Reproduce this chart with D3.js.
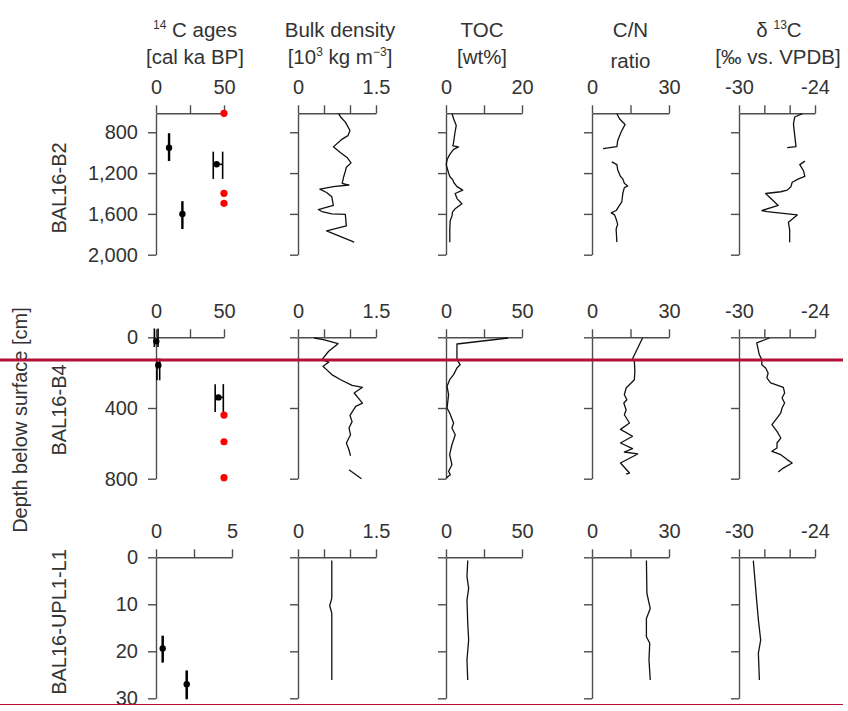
<!DOCTYPE html>
<html lang="en">
<head>
<meta charset="UTF-8">
<script src="https://cdn.jsdelivr.net/npm/d3@7"></script>
<style>
    body{margin:0;background:#fff;}
    svg text{font-family:"Liberation Sans",Arial,sans-serif;fill:#333;}
</style>
<title>BAL16 cores</title>
</head>
<body>
<svg id="chart"></svg>
<script>
// ---- data ----
var rowNames = ["BAL16-B2", "BAL16-B4", "BAL16-UPL1-L1"];
var depthDomains = [[614, 2000], [0, 800], [0, 30]];
var depthTicks = [[800, 1200, 1600, 2000], [0, 400, 800], [0, 10, 20, 30]];
var ageDomains = [[0, 50], [0, 50], [0, 5]];
var bulkDomain = [0, 1.5];
var tocDomains = [[0, 20], [0, 50], [0, 50]];
var cnDomain = [0, 30];
var d13Domain = [-30, -24];

// 14C samples: [depth top, depth bottom, depth, age min, age, age max]
var b2Ages = [[810, 1081, 951, 9.3, 9.6, 9.9], [990, 1257, 1114, 42.1, 44.6, 49.0], [1476, 1748, 1600, 19.1, 19.4, 19.7]];
var b4Ages = [[-50, 55, 23, -1.2, 0.2, 1.5], [120, 243, 158, 0.7, 1.7, 2.7], [265, 422, 340, 43.5, 45.9, 49.5]];
var uplAges = [[16.7, 22.4, 19.4, 0.41, 0.44, 0.47], [24.1, 30.2, 27.0, 1.99, 2.02, 2.05]];
// samples beyond the radiocarbon limit, plotted at 50 ka
var b2Infinite = [614, 1398, 1496];
var b4Infinite = [440, 591, 794];

// profiles: [depth, value], null = gap
var b2Bulk = [[618,0.78],[650,0.82],[700,0.91],[783,1.00],[833,0.96],[867,0.85],[943,0.68],[1000,0.82],[1050,0.95],[1100,1.02],[1143,0.93],[1183,0.91],[1233,0.88],[1300,0.85],[1317,0.98],[1333,0.68],[1357,0.42],[1390,0.55],[1433,0.65],[1517,0.68],[1557,0.39],[1577,0.46],[1600,0.65],[1605,0.91],[1717,0.93],[1767,0.55],[1877,1.08]];
var b2Toc = [[618,1.6],[667,2.0],[733,2.7],[817,2.3],[900,2.0],[933,1.8],[943,3.3],[967,2.0],[1017,1.0],[1067,0.3],[1117,0.05],[1150,0.3],[1200,0.7],[1233,1.0],[1267,1.8],[1290,2.0],[1333,2.9],[1367,4.4],[1400,2.4],[1450,2.9],[1500,4.2],[1550,2.4],[1583,1.7],[1617,1.6],[1667,1.1],[1750,1.0],[1877,1.0]];
var b2CN = [[618,9.7],[667,10.7],[723,12.9],[800,11.3],[883,10.0],[940,9.7],[960,4.3],null,[1090,7.7],[1117,9.7],[1167,10.0],[1233,11.1],[1257,12.0],[1300,12.6],[1327,13.9],[1343,12.6],[1400,12.0],[1483,11.6],[1517,10.7],[1567,9.4],[1590,7.5],[1610,8.8],[1650,9.4],[1700,10.0],[1750,9.4],[1877,9.7]];
var b2D13 = [[618,-25.0],[650,-25.6],[717,-25.7],[833,-25.6],[940,-25.5],[950,-26.2],null,[1083,-24.8],[1117,-25.2],[1180,-24.9],[1233,-24.8],[1257,-25.3],[1290,-25.8],[1333,-25.9],[1367,-26.2],[1383,-26.7],[1400,-27.9],[1517,-26.9],[1567,-28.2],[1577,-27.8],[1610,-25.4],[1683,-26.1],[1757,-26.0],[1877,-26.0]];

var b4Bulk = [[4,0.31],[13,0.49],[36,0.77],[79,0.59],[126,0.46],[141,0.59],[164,0.48],[183,0.55],[211,0.65],[240,0.82],[272,1.04],[283,1.24],[315,1.08],[372,1.24],[391,1.11],[442,1.00],[477,1.04],[513,0.98],[551,1.01],[598,0.93],[636,0.98],[670,1.01],null,[749,0.98],[800,1.22]];
var b4Toc = [[4,40.9],[38,7.2],[126,7.2],[155,9.3],[174,7.2],[211,5.0],[240,2.4],[277,0.7],[324,1.7],[400,0.7],[428,2.4],[485,5.0],[513,3.9],[551,6.1],[608,3.9],[664,2.4],[721,3.9],[758,1.7],[777,2.8],[796,0.2]];
var b4CN = [[4,19.7],[121,15.8],[136,16.5],[192,16.7],[240,16.5],[287,13.3],[325,12.6],[353,13.6],[372,12.4],[411,13.3],[438,12.6],[485,14.6],[521,11.1],[560,15.8],[598,11.1],[630,15.8],[649,12.6],[660,17.8],[711,11.1],[768,14.6],[774,13.3]];
var b4D13 = [[4,-27.6],[32,-28.6],[98,-28.4],[126,-28.2],[155,-28.2],[174,-27.9],[202,-27.7],[230,-27.8],[258,-27.5],[283,-26.5],[315,-26.4],[343,-26.6],[372,-26.4],[400,-26.6],[428,-26.7],[457,-27.0],[494,-27.4],[532,-27.0],[570,-26.7],[598,-27.0],[626,-27.0],[645,-27.4],[664,-26.7],[692,-26.2],[711,-25.8],[740,-26.5],[762,-26.9]];

var uplBulk = [[0.7,0.65],[8.7,0.65],[10.3,0.61],[11.9,0.65],[26.1,0.65]];
var uplToc = [[0.7,14.3],[4.1,13.8],[6.6,14.9],[9.1,13.8],[14.0,14.3],[17.6,14.9],[21.8,13.8],[26.1,14.3]];
var uplCN = [[0.7,21.2],[7.7,21.4],[10.9,22.7],[13.0,21.2],[16.9,21.2],[18.3,22.5],[21.8,22.2],[26.1,22.7]];
var uplD13 = [[0.7,-28.87],[4.8,-28.74],[9.1,-28.61],[13.3,-28.47],[17.6,-28.29],[20.4,-28.47],[26.1,-28.39]];

var ageSamples = [b2Ages, b4Ages, uplAges];
var infiniteSamples = [b2Infinite, b4Infinite, []];
var profiles = [
    [b2Bulk, b2Toc, b2CN, b2D13],
    [b4Bulk, b4Toc, b4CN, b4D13],
    [uplBulk, uplToc, uplCN, uplD13]
];

// ---- layout ----
var width = 848, height = 711;
var svg = d3.select("#chart").attr("width", width).attr("height", height);

var rowTop = [113.3, 337.3, 557.3];
var rowBottom = [254.7, 478.7, 698.3];
var colX = [156, 298, 446, 592, 739];
var colW = [68, 78, 76, 77, 76];
var axisColor = "#4d4d4d";

function endTicks(dom) { return [dom[0], (dom[0] + dom[1]) / 2, dom[1]]; }

function drawPanel(r, c, xDomain, xTicks) {
    var w = (r == 2 && c == 0) ? 76 : colW[c];
    var x = d3.scaleLinear().domain(xDomain).range([colX[c], colX[c] + w]);
    var y = d3.scaleLinear().domain(depthDomains[r]).range([rowTop[r], rowBottom[r]]);
    var g = svg.append("g");

    var xa = g.append("g")
        .attr("transform", "translate(0," + rowTop[r] + ")")
        .call(d3.axisTop(x).tickValues(xTicks).tickSize(8).tickSizeOuter(0).tickPadding(11)
            .tickFormat(function (d, i) { return (i == 0 || i == xTicks.length - 1) ? String(d) : ""; }));
    var ya = g.append("g")
        .attr("transform", "translate(" + colX[c] + ",0)")
        .call(d3.axisLeft(y).tickValues(depthTicks[r]).tickSize(8).tickSizeOuter(0).tickPadding(10)
            .tickFormat(c == 0 ? d3.format(",") : function () { return ""; }));
    [xa, ya].forEach(function (a) {
        a.attr("font-size", null).attr("font-family", null);
        a.selectAll("path, line").attr("stroke", axisColor).attr("stroke-width", 1.4);
        a.selectAll("text").attr("font-size", 20).attr("fill", "#333");
    });
    return {g: g, x: x, y: y};
}

for (var r = 0; r < 3; r++) {
    // 14C ages
    var p = drawPanel(r, 0, ageDomains[r], endTicks(ageDomains[r]));
    ageSamples[r].forEach(function (s) {
        [s[3], s[5]].forEach(function (a) {
            p.g.append("line")
                .attr("x1", p.x(a)).attr("x2", p.x(a))
                .attr("y1", p.y(s[0])).attr("y2", p.y(s[1]))
                .attr("stroke", "#000").attr("stroke-width", 1.6);
        });
        p.g.append("line")
            .attr("x1", p.x(s[3])).attr("x2", p.x(s[5]))
            .attr("y1", p.y(s[2])).attr("y2", p.y(s[2]))
            .attr("stroke", "#000").attr("stroke-width", 1.6);
        p.g.append("circle")
            .attr("cx", p.x(s[4])).attr("cy", p.y(s[2])).attr("r", 3.2)
            .attr("fill", "#000");
    });
    infiniteSamples[r].forEach(function (d) {
        p.g.append("circle")
            .attr("cx", p.x(ageDomains[r][1])).attr("cy", p.y(d)).attr("r", 3.6)
            .attr("fill", "#ff0000");
    });

    // profiles
    var doms = [bulkDomain, tocDomains[r], cnDomain, d13Domain];
    var ticks = [[0, 0.5, 1, 1.5], endTicks(tocDomains[r]), [0, 15, 30], [-30, -28, -26, -24]];
    for (var c = 1; c < 5; c++) {
        var q = drawPanel(r, c, doms[c - 1], ticks[c - 1]);
        var line = d3.line()
            .defined(function (d) { return d != null; })
            .x(function (d) { return q.x(d[1]); })
            .y(function (d) { return q.y(d[0]); });
        q.g.append("path")
            .attr("d", line(profiles[r][c - 1]))
            .attr("fill", "none")
            .attr("stroke", "#111")
            .attr("stroke-width", 1.3)
            .attr("stroke-linejoin", "round");
    }
}

// column headers
function header(cx, yy, parts, anchorShift) {
    var t = svg.append("text")
        .attr("x", cx + (anchorShift || 0)).attr("y", yy)
        .attr("text-anchor", "middle")
        .attr("font-size", 20.5);
    var up = 0;
    parts.forEach(function (p) {
        var sup = p.charAt(0) == "^";
        var s = t.append("tspan").text(sup ? p.slice(1) : p);
        if (sup) {
            s.attr("font-size", 12).attr("dy", -8);
            up = 8;
        } else if (up) {
            s.attr("dy", up);
            up = 0;
        }
    });
}
var colCenter = colX.map(function (x, i) { return x + colW[i] / 2; });
header(colCenter[0], 37, ["^14", " C ages"], 5);
header(colCenter[0], 64, ["[cal ka BP]"], 5);
header(colCenter[1], 37, ["Bulk density"], 3);
header(colCenter[1], 64, ["[10", "^3", " kg m", "^\u22123", "]"], 3);
header(colCenter[2], 37, ["TOC"], -2);
header(colCenter[2], 64, ["[wt%]"], -2);
header(colCenter[3], 37, ["C/N"], 0);
header(colCenter[3], 68, ["ratio"], 0);
header(colCenter[4], 37, ["\u03b4 ", "^13", "C"], 2);
header(colCenter[4], 64, ["[\u2030 vs. VPDB]"], 1);

// side labels
svg.append("text")
    .attr("transform", "translate(27,420) rotate(-90)")
    .attr("text-anchor", "middle")
    .attr("font-size", 20)
    .text("Depth below surface [cm]");
var rowLabelY = [188, 410, 622];
rowNames.forEach(function (n, i) {
    svg.append("text")
        .attr("transform", "translate(66," + rowLabelY[i] + ") rotate(-90)")
        .attr("text-anchor", "middle")
        .attr("font-size", 20)
        .text(n);
});

// red marker lines across the figure
svg.append("line").attr("x1", 0).attr("x2", 843).attr("y1", 360).attr("y2", 360)
    .attr("stroke", "#b3103a").attr("stroke-width", 2.8);
svg.append("line").attr("x1", 0).attr("x2", 843).attr("y1", 704.5).attr("y2", 704.5)
    .attr("stroke", "#b3103a").attr("stroke-width", 1.2);
</script>
</body>
</html>
